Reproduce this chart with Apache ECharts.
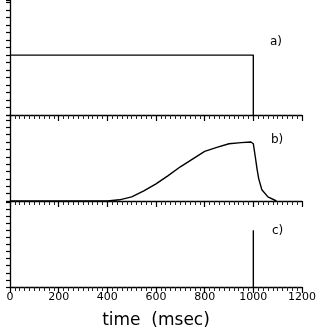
<!DOCTYPE html>
<html><head><meta charset="utf-8">
<script src="https://cdn.jsdelivr.net/npm/echarts@6/dist/echarts.min.js"></script>
<style>html,body{margin:0;padding:0;background:#fff}#c{width:321px;height:330px}</style>
</head><body><div id="c"></div>
<script>
// data (time in msec, normalized amplitude)
const seriesA = [[0,1],[1000,1],[1000,0]];
const seriesB = [[0,0],[400,0],[450,0.02],[500,0.07],[550,0.17],[600,0.29],[650,0.43],[700,0.58],[750,0.71],[800,0.84],[850,0.91],[900,0.97],[950,0.99],[990,1.0],[1000,0.97],[1008,0.75],[1015,0.55],[1022,0.38],[1035,0.19],[1060,0.07],[1095,0]];
const seriesC = [[1000,0],[1000,1]];
const panelLabels = ['a)','b)','c)'];
const xTicks = [0,200,400,600,800,1000,1200];
const xTitle = 'time  (msec)';

const chart = echarts.init(document.getElementById('c'));
const font = 'DejaVu Sans';
const grids = [
  {left:10, right:19, top:0, height:115},
  {left:10, right:19, top:115, height:86},
  {left:10, right:19, top:201, height:88}
];
const ymax = [1.92, 1.458, 1.517];
function xAxis(i){
  return {type:'value', gridIndex:i, min:xTicks[0], max:xTicks[xTicks.length-1], interval:200,
    axisLine:{show:true, onZero:false, lineStyle:{color:'#000', width:1.3}},
    axisTick:{show:true, length:6, lineStyle:{color:'#000', width:1.2}},
    minorTick:{show:true, splitNumber:10, length:4, lineStyle:{color:'#222', width:1}},
    splitLine:{show:false}, minorSplitLine:{show:false},
    axisLabel:{show:i===2, color:'#000', fontFamily:font, fontSize:11, margin:5, formatter:v=>String(v)},
    name: i===2 ? xTitle : '', nameLocation:'middle', nameGap:25,
    nameTextStyle:{color:'#000', fontFamily:font, fontSize:17}
  };
}
function yAxis(i){
  return {type:'value', gridIndex:i, min:0, max:ymax[i], interval:0.125,
    axisLine:{show:true, lineStyle:{color:'#000', width:1.3}},
    axisTick:{show:true, length:4, lineStyle:{color:'#000', width:1.2}},
    axisLabel:{show:false}, splitLine:{show:false}};
}
const line = (i,data)=>({type:'line', xAxisIndex:i, yAxisIndex:i, data, symbol:'none', smooth:false,
  lineStyle:{color:'#000', width:1.4}, animation:false});
chart.setOption({
  animation:false,
  grid: grids,
  xAxis:[xAxis(0),xAxis(1),xAxis(2)],
  yAxis:[yAxis(0),yAxis(1),yAxis(2)],
  series:[line(0,seriesA), line(1,seriesB), line(2,seriesC)],
  graphic: panelLabels.map((t,i)=>({type:'text', left:[270,271,272][i], top:[36,134,225][i],
    style:{text:t, fill:'#000', font:'12px '+font}}))
});
</script></body></html>
